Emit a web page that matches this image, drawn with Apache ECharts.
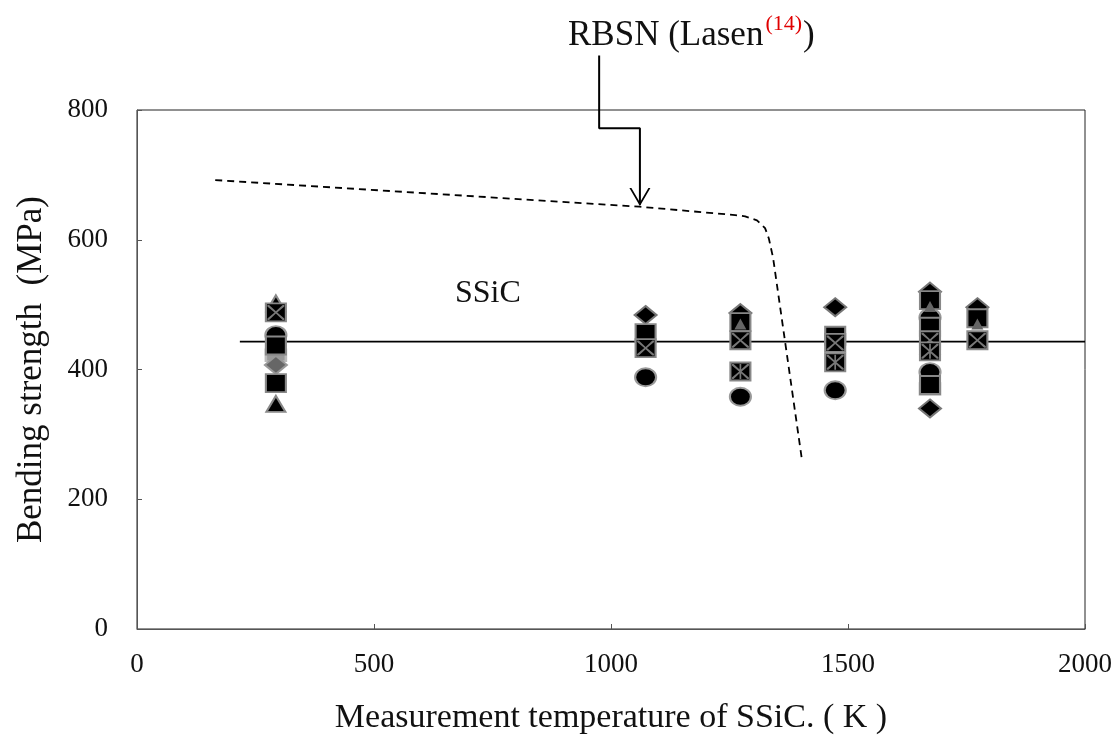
<!DOCTYPE html>
<html>
<head>
<meta charset="UTF-8">
<title>Bending strength of SSiC</title>
<script src="https://cdn.jsdelivr.net/npm/echarts@6/dist/echarts.min.js"></script>
<style>
html, body { margin: 0; padding: 0; background: #fff; }
#main { width: 1120px; height: 740px; }
</style>
</head>
<body>
<div id="main"></div>
<script type="text/javascript">
// measurement temperatures (K) and bending strength (MPa), one list per marker type
var diamondPts   = [[1073, 484], [1273, 487], [1473, 496], [1673, 520], [1673, 340], [1773, 496]];
var triBlackPts  = [[293, 502], [293, 347], [1673, 436]];
var circlePts    = [[293, 453], [1073, 388], [1273, 358], [1473, 368], [1673, 396], [1673, 480]];
var squarePts    = [[293, 437], [293, 379], [1073, 456], [1273, 473], [1473, 452], [1673, 507], [1673, 466], [1673, 376], [1773, 479]];
var grayDiaPts   = [[293, 407]];
var graySqPts    = [[293, 422], [1673, 370]];
var crossSqPts   = [[293, 488], [1073, 433], [1273, 445], [1473, 441], [1673, 445], [1773, 445]];
var starSqPts    = [[1273, 397], [1473, 411], [1673, 428]];
var triGrayPts   = [[1273, 470], [1673, 497], [1773, 470]];

// SSiC mean line and RBSN curve (Lasen)
var ssicLine = [[217, 443], [2000, 443]];
var rbsnCurve = [[165, 692], [1060, 651], [1262, 638], [1283, 636], [1308, 630], [1325, 618],
                 [1333, 602], [1342, 572], [1403, 260]];
// leader line for the RBSN label
var leaderLine = [[975, 884], [975, 772], [1061, 772], [1061, 654]];
var arrowHead = [[1061, 666]];

var xTicks = [0, 500, 1000, 1500, 2000];
var yTicks = [0, 200, 400, 600, 800];

var FONT = '"Liberation Serif", "Times New Roman", serif';
var crossPath = 'path://M0,0 L2,0 L10,8.5 L18,0 L20,0 L20,2 L11.5,10 L20,18 L20,20 L18,20 L10,11.5 L2,20 L0,20 L0,18 L8.5,10 L0,2 Z';
var starPath = crossPath + ' M9,0 L11,0 L11,20 L9,20 Z';
var vPath = 'path://M0,0 L10.5,18 L21,0 L19,0 L10.5,14.5 L2,0 Z';

function pts(name, data, symbol, size, fill, border) {
	return {
		name: name,
		type: 'scatter',
		data: data,
		symbol: symbol,
		symbolSize: size,
		itemStyle: { color: fill, borderColor: border, borderWidth: border ? 2 : 0, opacity: 1 },
		emphasis: { disabled: true }
	};
}

var myChart = echarts.init(document.getElementById('main'));

var option = {
	backgroundColor: '#fff',
	animation: false,
	textStyle: { fontFamily: FONT },
	grid: {
		left: 137, right: 35, top: 110, bottom: 111,
		show: true, borderColor: '#222', borderWidth: 1
	},
	xAxis: {
		type: 'value',
		min: xTicks[0], max: xTicks[xTicks.length - 1], interval: 500,
		name: 'Measurement temperature of SSiC. ( K )',
		nameLocation: 'middle',
		nameGap: 72,
		nameTextStyle: { fontFamily: FONT, fontSize: 34, color: '#111' },
		axisLine: { show: true, lineStyle: { color: '#555', width: 1 } },
		axisTick: { show: true, inside: true, length: 5, lineStyle: { color: '#555' } },
		axisLabel: {
			fontFamily: FONT, fontSize: 27, color: '#111', margin: 22,
			formatter: function(v) { return String(v); }
		},
		splitLine: { show: false }
	},
	yAxis: {
		type: 'value',
		min: yTicks[0], max: yTicks[yTicks.length - 1], interval: 200,
		name: 'Bending strength  (MPa)',
		nameLocation: 'middle',
		nameGap: 88,
		nameRotate: 90,
		nameTextStyle: { fontFamily: FONT, fontSize: 35, color: '#111' },
		axisLine: { show: true, lineStyle: { color: '#555', width: 1 } },
		axisTick: { show: true, inside: true, length: 5, lineStyle: { color: '#555' } },
		axisLabel: {
			fontFamily: FONT, fontSize: 27, color: '#111', margin: 29,
			formatter: function(v) { return String(v); }
		},
		splitLine: { show: false }
	},
	graphic: [{
		type: 'text',
		left: 568, top: 13,
		style: {
			text: '{a|RBSN (Lasen}{b|(14)}{a|)}',
			rich: {
				a: { fontFamily: FONT, fontSize: 35, fill: '#111', verticalAlign: 'bottom', lineHeight: 40 },
				b: { fontFamily: FONT, fontSize: 22, fill: '#e00000', verticalAlign: 'top', lineHeight: 40, padding: [0, 1, 17, 2] }
			}
		}
	}, {
		type: 'text',
		left: 455, top: 278,
		style: { text: 'SSiC', fontFamily: FONT, fontSize: 32, fill: '#111' }
	}],
	series: [
		{
			name: 'SSiC', type: 'line', data: ssicLine, symbol: 'none', silent: true,
			lineStyle: { color: '#000', width: 1.6 }, z: 1
		},
		{
			name: 'RBSN', type: 'line', data: rbsnCurve, symbol: 'none', silent: true,
			lineStyle: { color: '#000', width: 1.8, type: [7, 5] }, z: 1
		},
		{
			name: 'leader', type: 'line', data: leaderLine, symbol: 'none', silent: true, clip: false,
			lineStyle: { color: '#000', width: 2 }, z: 3
		},
		pts('arrow', arrowHead, vPath, [21, 18], '#000', null),
		pts('diamond', diamondPts, 'diamond', [22, 18], '#000', '#777'),
		pts('triangle', triBlackPts, 'triangle', [19, 16], '#000', '#888'),
		pts('circle', circlePts, 'circle', [21, 18], '#000', '#999'),
		pts('gray square', graySqPts, 'rect', [20, 12], '#999', '#bbb'),
		pts('gray diamond', grayDiaPts, 'diamond', [22, 18], '#666', '#999'),
		pts('square', squarePts, 'rect', [20, 18], '#000', '#888'),
		pts('square x', crossSqPts, 'rect', [20, 18], '#000', '#888'),
		pts('square x lines', crossSqPts, crossPath, [17, 15], '#777', null),
		pts('square star', starSqPts, 'rect', [20, 18], '#000', '#888'),
		pts('square star lines', starSqPts, starPath, [17, 15], '#777', null),
		pts('gray triangle', triGrayPts, 'triangle', [12, 11], '#666', null)
	]
};

myChart.setOption(option);
</script>
</body>
</html>
